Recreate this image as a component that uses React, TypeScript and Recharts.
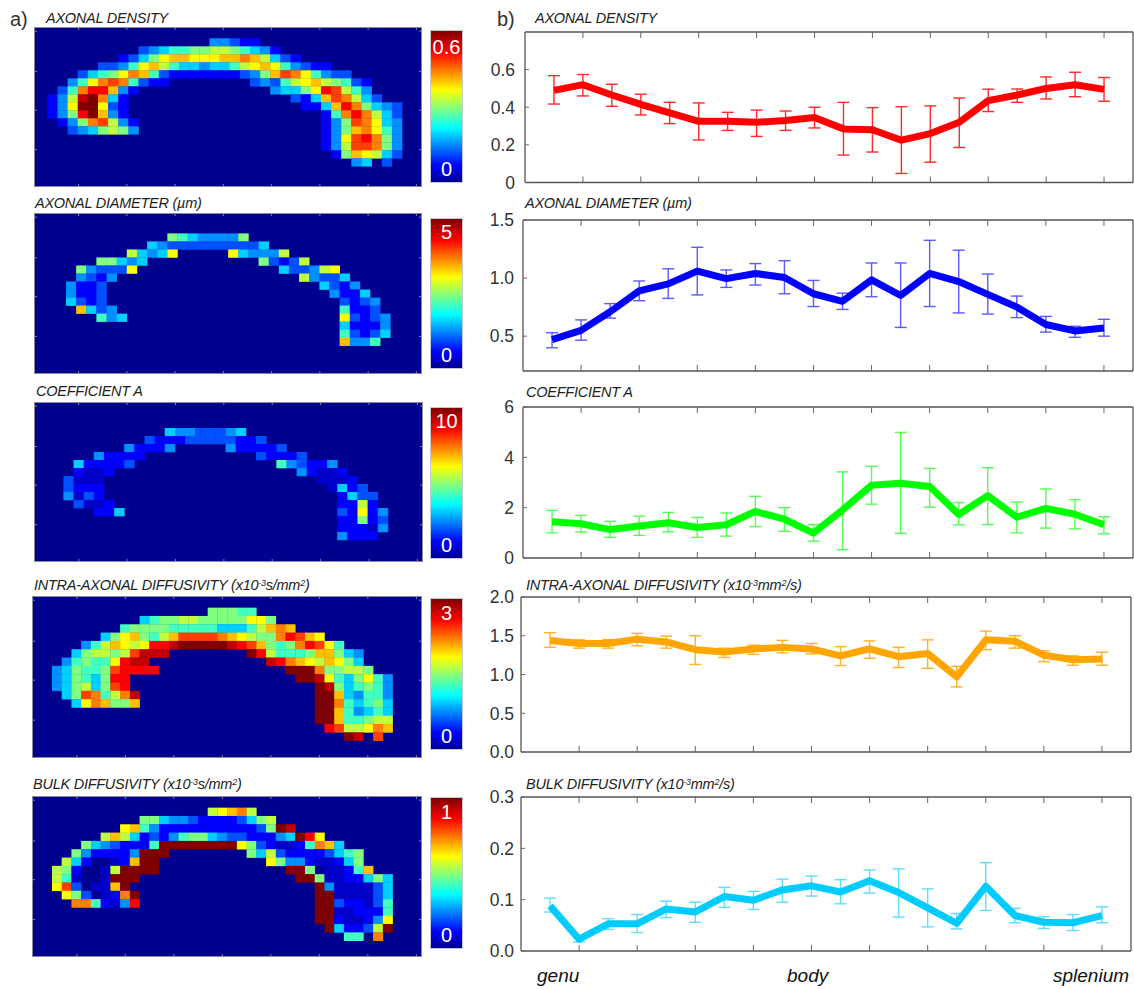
import React from "react";
import {
  ScatterChart, Scatter, XAxis, YAxis, LineChart, Line, ErrorBar, BarChart, Bar,
} from "recharts";

// ---------- map data: [row, first column, one level character per voxel] ----------
type Seg = [number, number, string];

const LEVEL_COLORS: Record<string, string> = {
  "0": "#0000c8", "1": "#0000ff", "2": "#0050ff", "3": "#0090ff", "4": "#00d0ff",
  "5": "#40ffc0", "6": "#80ff80", "7": "#c0ff40", "8": "#ffff00", "9": "#ffc000",
  a: "#ff8000", b: "#ff4000", c: "#ff0000", d: "#c00000", e: "#800000",
};

const densityMap: Seg[] = [
  [0, 16, "33211"],
  [1, 9, "23455667765431"],
  [2, 7, "124689988899a97421"],
  [3, 5, "22358975443445789853211"],
  [4, 3, "24568a95211111112369ba85322"],
  [5, 2, "358aba5211"], [5, 20, "232578976521"],
  [6, 1, "25acc931"], [6, 22, "34468cb753"],
  [7, 0, "137dea41"], [7, 24, "2149ba742"],
  [8, 0, "138ee821"], [8, 25, "1149ca6432"],
  [9, 0, "136ce931"], [9, 27, "15aca742"],
  [10, 1, "136ab731"], [10, 27, "136ba843"],
  [11, 2, "2346763"], [11, 27, "1369a853"],
  [12, 27, "138bca63"],
  [13, 27, "137bba63"],
  [14, 28, "1698742"],
  [15, 30, "34"], [15, 33, "2"],
];

const diameterMap: Seg[] = [
  [0, 10, "65433336"],
  [1, 8, "432222222224"],
  [2, 6, "74348"], [2, 16, "843337"],
  [3, 3, "66434"], [3, 19, "62127"],
  [4, 1, "632228"], [4, 21, "422378"],
  [5, 1, "3213"], [5, 23, "73224"],
  [6, 0, "3112"], [6, 25, "4213"],
  [7, 0, "3112"], [7, 26, "3114"],
  [8, 0, "4212"], [8, 27, "2123"],
  [9, 1, "9423"], [9, 27, "5112"],
  [10, 3, "534"], [10, 27, "82123"],
  [11, 27, "41113"],
  [12, 27, "52124"],
  [13, 27, "9335"],
];

const coefficientMap: Seg[] = [
  [0, 10, "43322234"],
  [1, 8, "211122222112"],
  [2, 6, "31113"], [2, 16, "311112"],
  [3, 3, "31111"], [3, 19, "21112"],
  [4, 1, "411112"], [4, 21, "532113"],
  [5, 1, "1001"], [5, 23, "31001"],
  [6, 0, "2000"], [6, 25, "0001"],
  [7, 0, "2111"], [7, 26, "0412"],
  [8, 0, "3021"], [8, 27, "1422"],
  [9, 1, "2001"], [9, 27, "1171"],
  [10, 3, "114"], [10, 27, "21813"],
  [11, 27, "11612"],
  [12, 27, "11103"],
  [13, 27, "3111"],
];

const intraMap: Seg[] = [
  [0, 16, "66655"],
  [1, 9, "45667766666886"],
  [2, 7, "5666655555444579a9"],
  [3, 5, "46896579bbbba98766acb98"],
  [4, 3, "3579878ccdeeeeedcb9656acb85"],
  [5, 2, "467767bddd"], [5, 20, "ec7555699643"],
  [6, 1, "356558cdd"], [6, 22, "dca9879864"],
  [7, 0, "346556bcccc"], [7, 24, "eeea66776"],
  [8, 0, "346546cc"], [8, 25, "eed8546853"],
  [9, 0, "346746bc"], [9, 27, "ed645653"],
  [10, 1, "46ba57ad"], [10, 27, "ee943553"],
  [11, 2, "48a9669"], [11, 27, "eea54564"],
  [12, 27, "ee953454"],
  [13, 27, "ee955677"],
  [14, 28, "cb778a9"],
  [15, 30, "ed"], [15, 33, "b"],
];

const bulkMap: Seg[] = [
  [0, 16, "789a7"],
  [1, 9, "66433211112467"],
  [2, 7, "8953111111111126ed"],
  [3, 5, "79741213566432211134ec8"],
  [4, 3, "64321115"], [4, 11, "eeeeeeee"], [4, 19, "86210015a94"],
  [5, 2, "6311113eee"], [5, 20, "647211112456"],
  [6, 1, "741..019ee"], [6, 22, "8633100146"],
  [7, 0, "761..07eeee"], [7, 24, "ee6.00159"],
  [8, 0, "750..0eee"], [8, 25, "ee60011464"],
  [9, 0, "8b2.009e"], [9, 27, "e3000024"],
  [10, 1, "862.01ae"], [10, 27, "ee000024"],
  [11, 2, "aa5103c"], [11, 27, "ee211025"],
  [12, 27, "ee001115"],
  [13, 27, "ee100138"],
  [14, 28, "e41127e"],
  [15, 30, "55"], [15, 33, "a"],
];

// ---------- profile data along the tract (20 segments, genu to splenium) ----------
const segmentIds = [1, 2, 3, 4, 5, 6, 7, 8, 9, 10, 11, 12, 13, 14, 15, 16, 17, 18, 19, 20];

const densityMean = [0.49, 0.52, 0.465, 0.415, 0.37, 0.325, 0.325, 0.32, 0.33, 0.345, 0.285, 0.28, 0.225, 0.26, 0.32, 0.435, 0.465, 0.5, 0.52, 0.495];
const densityHigh = [0.568, 0.574, 0.522, 0.469, 0.426, 0.423, 0.373, 0.385, 0.38, 0.4, 0.426, 0.398, 0.403, 0.407, 0.449, 0.496, 0.497, 0.561, 0.586, 0.558];
const densityLow = [0.417, 0.46, 0.405, 0.359, 0.313, 0.226, 0.277, 0.245, 0.277, 0.29, 0.146, 0.162, 0.048, 0.108, 0.186, 0.377, 0.426, 0.444, 0.456, 0.432];

const diameterMean = [0.47, 0.55, 0.71, 0.89, 0.95, 1.06, 0.995, 1.04, 1.005, 0.865, 0.8, 0.985, 0.85, 1.04, 0.97, 0.86, 0.75, 0.6, 0.545, 0.57];
const diameterHigh = [0.53, 0.64, 0.78, 0.975, 1.08, 1.265, 1.07, 1.125, 1.15, 0.98, 0.87, 1.13, 1.13, 1.325, 1.24, 1.035, 0.845, 0.67, 0.585, 0.645];
const diameterLow = [0.4, 0.465, 0.655, 0.805, 0.825, 0.855, 0.92, 0.94, 0.865, 0.755, 0.73, 0.84, 0.575, 0.755, 0.7, 0.69, 0.66, 0.535, 0.49, 0.5];

const coefficientMean = [1.44, 1.36, 1.13, 1.27, 1.4, 1.21, 1.32, 1.85, 1.54, 0.99, 1.91, 2.89, 2.97, 2.84, 1.73, 2.48, 1.62, 1.97, 1.74, 1.32];
const coefficientHigh = [1.89, 1.69, 1.46, 1.66, 1.81, 1.61, 1.79, 2.45, 2.0, 1.33, 3.42, 3.64, 4.99, 3.56, 2.2, 3.59, 2.22, 2.74, 2.32, 1.64];
const coefficientLow = [1.0, 1.03, 0.82, 0.9, 1.04, 0.82, 0.87, 1.25, 1.06, 0.67, 0.33, 2.14, 0.98, 2.02, 1.32, 1.33, 1.0, 1.19, 1.16, 0.96];

const intraMean = [1.44, 1.4, 1.4, 1.456, 1.42, 1.32, 1.29, 1.33, 1.35, 1.33, 1.24, 1.33, 1.23, 1.27, 0.97, 1.447, 1.43, 1.25, 1.19, 1.2];
const intraHigh = [1.54, 1.447, 1.45, 1.53, 1.495, 1.5, 1.34, 1.38, 1.44, 1.4, 1.36, 1.434, 1.35, 1.447, 1.106, 1.56, 1.5, 1.305, 1.24, 1.287];
const intraLow = [1.35, 1.34, 1.34, 1.37, 1.34, 1.13, 1.22, 1.26, 1.28, 1.265, 1.115, 1.21, 1.09, 1.08, 0.84, 1.32, 1.34, 1.166, 1.12, 1.12];

const bulkMean = [0.088, 0.023, 0.053, 0.053, 0.082, 0.076, 0.106, 0.099, 0.119, 0.127, 0.115, 0.137, 0.114, 0.084, 0.054, 0.126, 0.069, 0.056, 0.055, 0.069];
const bulkHigh = [0.103, 0.026, 0.063, 0.071, 0.097, 0.095, 0.124, 0.116, 0.14, 0.146, 0.139, 0.158, 0.16, 0.121, 0.073, 0.172, 0.083, 0.067, 0.071, 0.086];
const bulkLow = [0.076, 0.0175, 0.042, 0.036, 0.065, 0.056, 0.085, 0.081, 0.095, 0.107, 0.092, 0.113, 0.066, 0.047, 0.043, 0.079, 0.055, 0.044, 0.04, 0.055];

const xTicks = [2, 4, 6, 8, 10, 12, 14, 16, 18, 20];
const FONT = "'Liberation Sans', Arial, sans-serif";
const JET = [
  ["0%", "#00008f"], ["11%", "#0000ff"], ["36%", "#00ffff"],
  ["61%", "#ffff00"], ["86%", "#ff0000"], ["100%", "#800000"],
];

const mark = (dx: number, dy: number, stroke = "#666") => (p: any) => (
  <line x1={p.x} y1={p.y} x2={p.x + dx} y2={p.y + dy} stroke={stroke} strokeWidth={1} />
);

function Abs({ x, y, children, style }: any) {
  return (
    <div style={{ position: "absolute", left: x, top: y - 10, lineHeight: "20px", whiteSpace: "nowrap", fontFamily: FONT, ...style }}>
      {children}
    </div>
  );
}

function Title({ x, y, size = 14.5, spacing = -0.25, children }: any) {
  return (
    <Abs x={x} y={y} style={{ fontStyle: "italic", fontSize: size, letterSpacing: spacing, color: "#222" }}>
      {children}
    </Abs>
  );
}

const Sup = ({ children }: any) => (
  <span style={{ fontSize: "0.62em", position: "relative", top: "-0.45em" }}>{children}</span>
);

function HeatMap({ cells, left, top, width, height, colOffset, colSpan, rowOffset, rowSpan }: any) {
  const points: any[] = [];
  (cells as Seg[]).forEach(([row, col, levels]) => {
    levels.split("").forEach((ch, i) => {
      if (ch !== ".") points.push({ c: col + i + 0.5, r: row + 0.5, level: ch });
    });
  });
  const xDomain = [-colOffset, colSpan - colOffset];
  const yDomain = [-rowOffset, rowSpan - rowOffset];
  const cw = width / colSpan;
  const ch = height / rowSpan;
  const xT = [0.113, 0.238, 0.363, 0.488, 0.613, 0.738, 0.863, 0.988].map((f) => xDomain[0] + f * colSpan);
  const yT = [0.02, 0.276, 0.52, 0.77].map((f) => yDomain[0] + f * rowSpan);
  const edge = { tickSize: 0, tickMargin: 0, tickLine: false, axisLine: false, interval: 0 as const, allowDataOverflow: true };
  return (
    <div style={{ position: "absolute", left, top, width, height, background: "#00008f", outline: "1px solid #8a8a9a", filter: "blur(0.4px)" }}>
      <div style={{ position: "absolute", left: -1, top: -1 }}>
        <ScatterChart width={width + 2} height={height + 2} margin={{ top: 0, right: 0, bottom: 0, left: 0 }}>
          <XAxis xAxisId="b" type="number" dataKey="c" domain={xDomain} ticks={xT} height={1} {...edge} tick={mark(0, -2, "#8088a8")} />
          <XAxis xAxisId="t" orientation="top" type="number" dataKey="c" domain={xDomain} ticks={xT} height={1} {...edge} tick={mark(0, 2, "#8088a8")} />
          <YAxis yAxisId="l" type="number" dataKey="r" domain={yDomain} reversed ticks={yT} width={1} {...edge} tick={mark(2, 0, "#8088a8")} />
          <YAxis yAxisId="r" orientation="right" type="number" dataKey="r" domain={yDomain} reversed ticks={yT} width={1} {...edge} tick={mark(-2, 0, "#8088a8")} />
          <Scatter
            xAxisId="b"
            yAxisId="l"
            data={points}
            isAnimationActive={false}
            shape={(p: any) => (
              <rect x={p.cx - cw / 2} y={p.cy - ch / 2} width={cw + 0.3} height={ch + 0.3} fill={LEVEL_COLORS[p.payload.level]} />
            )}
          />
        </ScatterChart>
      </div>
    </div>
  );
}

function ColorBar({ id, top, bottom, maxValue, maxLabel, maxY, zeroY }: any) {
  const perUnit = (zeroY - maxY) / maxValue;
  const lo = -(bottom - zeroY) / perUnit;
  const hi = maxValue + (maxY - top) / perUnit;
  const w = 31;
  const labelStyle: any = { position: "absolute", left: 431, width: w, textAlign: "center", lineHeight: "24px", fontSize: 20, fontFamily: FONT, color: "#fff" };
  return (
    <>
      <div style={{ position: "absolute", left: 431, top, outline: "1px solid #c4c8d4" }}>
        <BarChart width={w} height={bottom - top} data={[{ name: id, range: [lo, hi] }]} margin={{ top: 0, right: 0, bottom: 0, left: 0 }} barCategoryGap={0}>
          <defs>
            <linearGradient id={id} x1="0" y1="1" x2="0" y2="0">
              {JET.map(([o, c]) => <stop key={o} offset={o} stopColor={c} />)}
            </linearGradient>
          </defs>
          <XAxis dataKey="name" hide />
          <YAxis type="number" domain={[lo, hi]} hide allowDataOverflow />
          <Bar dataKey="range" fill={`url(#${id})`} isAnimationActive={false} />
        </BarChart>
      </div>
      <div style={{ ...labelStyle, top: maxY - 12 }}>{maxLabel}</div>
      <div style={{ ...labelStyle, top: zeroY - 12 }}>0</div>
    </>
  );
}

function Profile({ mean, low, high, color, errColor, left, right, top, bottom, domain, ticks, fmt, gap }: any) {
  const data = (segmentIds as number[]).map((x, i) => ({
    x, y: mean[i], err: [mean[i] - low[i], high[i] - mean[i]],
  }));
  const LM = 40;
  const TM = 12;
  const BM = 12;
  const edge = 1;
  const axisProps = { tickSize: 0, tickMargin: 0, tickLine: false, interval: 0 as const, axisLine: { stroke: "#555", strokeWidth: 1.3 } };
  return (
    <div style={{ position: "absolute", left: left - LM, top: top - TM }}>
      <LineChart width={right - left + LM + edge} height={bottom - top + TM + BM} data={data} margin={{ top: TM - edge, right: 0, bottom: BM - edge, left: 0 }}>
        <XAxis xAxisId="b" type="number" dataKey="x" domain={[0, 21]} ticks={xTicks} height={edge} {...axisProps} tick={mark(0, -6)} />
        <XAxis xAxisId="t" orientation="top" type="number" dataKey="x" domain={[0, 21]} ticks={xTicks} height={edge} {...axisProps} tick={mark(0, 6)} />
        <YAxis yAxisId="l" type="number" domain={domain} ticks={ticks} width={LM} {...axisProps}
          tick={(p: any) => (
            <g>
              <line x1={p.x} y1={p.y} x2={p.x + 4} y2={p.y} stroke="#666" />
              <text x={p.x - gap} y={p.y} dy="0.36em" textAnchor="end" fontSize={17.5} fill="#333" fontFamily={FONT}>
                {fmt(p.payload.value)}
              </text>
            </g>
          )}
        />
        <YAxis yAxisId="r" orientation="right" type="number" domain={domain} ticks={ticks} width={edge} {...axisProps} tick={mark(-4, 0)} />
        <Line xAxisId="b" yAxisId="l" dataKey="y" stroke={color} strokeWidth={1} dot={false} isAnimationActive={false}>
          <ErrorBar dataKey="err" direction="y" stroke={errColor} strokeWidth={1.4} width={6} isAnimationActive={false} />
        </Line>
        <Line xAxisId="b" yAxisId="l" dataKey="y" stroke={color} strokeWidth={7} dot={false} strokeLinejoin="round" isAnimationActive={false} />
      </LineChart>
    </div>
  );
}

const f1 = (v: number) => v.toFixed(1);
const f0 = (v: number) => String(v);

export default function App() {
  return (
    <div style={{ position: "absolute", left: 0, top: 0, width: 1134, height: 989, overflow: "hidden", background: "#fff" }}>
      <Abs x={10} y={19} style={{ fontSize: 20, color: "#333" }}>a)</Abs>
      <Abs x={497} y={19} style={{ fontSize: 20, color: "#333" }}>b)</Abs>

      <Title x={46} y={18}>AXONAL DENSITY</Title>
      <Title x={35} y={203}>AXONAL DIAMETER (µm)</Title>
      <Title x={36} y={391}>COEFFICIENT A</Title>
      <Title x={34} y={585}>INTRA-AXONAL DIFFUSIVITY (x10<Sup>-3</Sup>s/mm<Sup>2</Sup>)</Title>
      <Title x={33} y={784}>BULK DIFFUSIVITY (x10<Sup>-3</Sup>s/mm<Sup>2</Sup>)</Title>

      <HeatMap cells={densityMap} left={35} top={28} width={386} height={158} colOffset={1.217} colSpan={38.09} rowOffset={1.29} rowSpan={19.75} />
      <HeatMap cells={diameterMap} left={35} top={214} width={386} height={159} colOffset={3.06} colSpan={38.09} rowOffset={2.42} rowSpan={19.83} />
      <HeatMap cells={coefficientMap} left={35} top={403} width={387} height={158} colOffset={2.8} colSpan={38.16} rowOffset={3.125} rowSpan={19.75} />
      <HeatMap cells={intraMap} left={33} top={597} width={388} height={160} colOffset={1.95} colSpan={39.87} rowOffset={1.28} rowSpan={19.24} />
      <HeatMap cells={bulkMap} left={33} top={797} width={388} height={159} colOffset={1.95} colSpan={39.87} rowOffset={1.28} rowSpan={19.12} />

      <ColorBar id="jetA" top={31} bottom={182} maxValue={0.6} maxLabel="0.6" maxY={47} zeroY={169} />
      <ColorBar id="jetB" top={219} bottom={368} maxValue={5} maxLabel="5" maxY={232} zeroY={355} />
      <ColorBar id="jetC" top={408} bottom={558} maxValue={10} maxLabel="10" maxY={421} zeroY={545} />
      <ColorBar id="jetD" top={599} bottom={749} maxValue={3} maxLabel="3" maxY={613} zeroY={736} />
      <ColorBar id="jetE" top={798} bottom={948} maxValue={1} maxLabel="1" maxY={812} zeroY={935} />

      <Title x={535} y={18}>AXONAL DENSITY</Title>
      <Title x={525} y={203}>AXONAL DIAMETER (µm)</Title>
      <Title x={526} y={392}>COEFFICIENT A</Title>
      <Title x={526} y={585}>INTRA-AXONAL DIFFUSIVITY (x10<Sup>-3</Sup>mm<Sup>2</Sup>/s)</Title>
      <Title x={526} y={784}>BULK DIFFUSIVITY (x10<Sup>-3</Sup>mm<Sup>2</Sup>/s)</Title>

      <Profile mean={densityMean} low={densityLow} high={densityHigh} color="#ff0000" errColor="#ff2a2a" left={525} right={1133} top={32} bottom={182.5} domain={[0, 0.8]} ticks={[0, 0.2, 0.4, 0.6]} fmt={(v: number) => (v === 0 ? "0" : f1(v))} gap={10} />
      <Profile mean={diameterMean} low={diameterLow} high={diameterHigh} color="#0000ff" errColor="#5a5aff" left={523} right={1133} top={220} bottom={371} domain={[0.2, 1.5]} ticks={[0.5, 1.0, 1.5]} fmt={f1} gap={9} />
      <Profile mean={coefficientMean} low={coefficientLow} high={coefficientHigh} color="#00ff00" errColor="#55ff55" left={523} right={1133} top={407} bottom={558} domain={[0, 6]} ticks={[0, 2, 4, 6]} fmt={f0} gap={9} />
      <Profile mean={intraMean} low={intraLow} high={intraHigh} color="#ffa500" errColor="#ffb226" left={521} right={1131} top={597} bottom={752} domain={[0, 2]} ticks={[0, 0.5, 1.0, 1.5, 2.0]} fmt={f1} gap={7} />
      <Profile mean={bulkMean} low={bulkLow} high={bulkHigh} color="#00ccff" errColor="#60dcff" left={521} right={1131} top={797} bottom={951} domain={[0, 0.3]} ticks={[0, 0.1, 0.2, 0.3]} fmt={f1} gap={7} />

      <Abs x={537} y={976} style={{ fontSize: 19, fontStyle: "italic", color: "#111" }}>genu</Abs>
      <Abs x={787} y={976} style={{ fontSize: 19, fontStyle: "italic", color: "#111" }}>body</Abs>
      <Abs x={1053} y={976} style={{ fontSize: 19, fontStyle: "italic", color: "#111" }}>splenium</Abs>
    </div>
  );
}
